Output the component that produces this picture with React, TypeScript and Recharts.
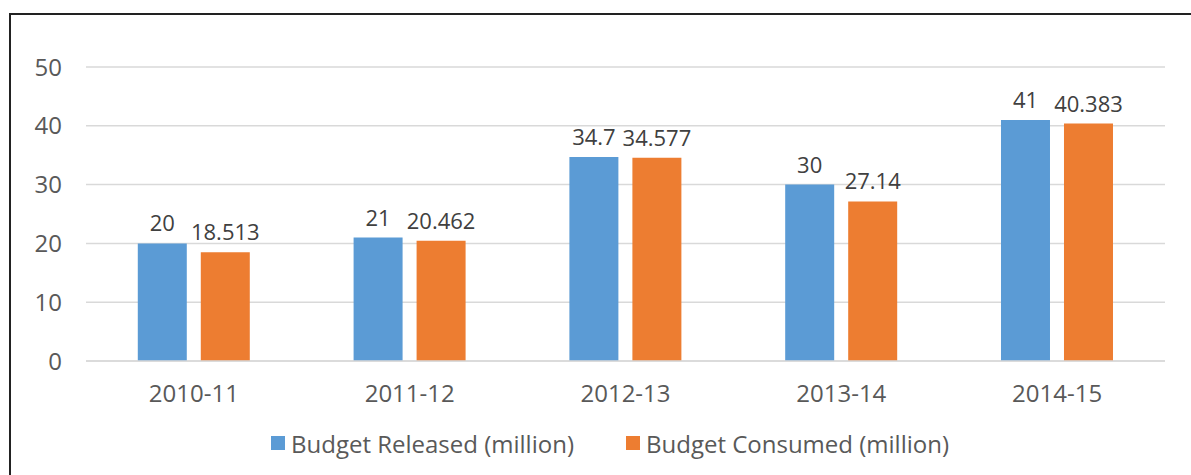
import { BarChart, Bar, XAxis, YAxis, CartesianGrid, LabelList } from 'recharts'

const years = ['2010-11', '2011-12', '2012-13', '2013-14', '2014-15']
const released = [20, 21, 34.7, 30, 41]
const consumed = [18.513, 20.462, 34.577, 27.14, 40.383]
const yTicks = [0, 10, 20, 30, 40, 50]

const BLUE = '#5B9BD5'
const ORANGE = '#ED7D31'
const FONT = '"Open Sans", sans-serif'

const data = years.map((year, i) => ({
  year,
  released: released[i],
  consumed: consumed[i],
}))

const legendItems = [
  { label: 'Budget Released (million)', color: BLUE },
  { label: 'Budget Consumed (million)', color: ORANGE },
]

export default function App() {
  return (
    <div style={{ position: 'absolute', left: 0, top: 0, width: 1191, height: 475, overflow: 'hidden', background: '#fff' }}>
      {/* frame */}
      <div
        style={{
          position: 'absolute',
          left: 9,
          top: 13,
          width: 1300,
          height: 600,
          border: '2px solid #222',
        }}
      />
      <div style={{ position: 'absolute', left: 0, top: 0 }}>
        <BarChart
          width={1191}
          height={475}
          data={data}
          margin={{ top: 67, right: 26, left: 0, bottom: 84 }}
          barCategoryGap="24%"
          barGap={14}
        >
          <CartesianGrid vertical={false} stroke="#D9D9D9" strokeWidth={1.5} />
          <XAxis
            dataKey="year"
            height={30}
            tickLine={false}
            axisLine={{ stroke: '#D9D9D9', strokeWidth: 1.5 }}
            tickSize={0}
            tickMargin={24}
            tick={{ fill: '#595959', fontSize: 24, fontFamily: FONT }}
          />
          <YAxis
            domain={[0, 50]}
            ticks={yTicks}
            width={86}
            tickLine={false}
            axisLine={false}
            tickSize={0}
            tickMargin={24}
            tick={{ fill: '#595959', fontSize: 24, fontFamily: FONT }}
          />
          <Bar dataKey="released" fill={BLUE} isAnimationActive={false}>
            <LabelList dataKey="released" position="top" offset={12} fill="#404040" fontSize={22} fontFamily={FONT} />
          </Bar>
          <Bar dataKey="consumed" fill={ORANGE} isAnimationActive={false}>
            <LabelList dataKey="consumed" position="top" offset={12} fill="#404040" fontSize={22} fontFamily={FONT} />
          </Bar>
        </BarChart>
      </div>
      {/* legend */}
      <div
        style={{
          position: 'absolute',
          left: 271,
          top: 427,
          height: 32,
          display: 'flex',
          alignItems: 'center',
          gap: '52px',
          fontFamily: FONT,
          fontSize: '24px',
          color: '#595959',
          whiteSpace: 'nowrap',
        }}
      >
        {legendItems.map((item) => (
          <div key={item.label} style={{ display: 'flex', alignItems: 'center', gap: '6px' }}>
            <span style={{ width: '14px', height: '14px', background: item.color, display: 'inline-block' }} />
            <span>{item.label}</span>
          </div>
        ))}
      </div>
    </div>
  )
}
